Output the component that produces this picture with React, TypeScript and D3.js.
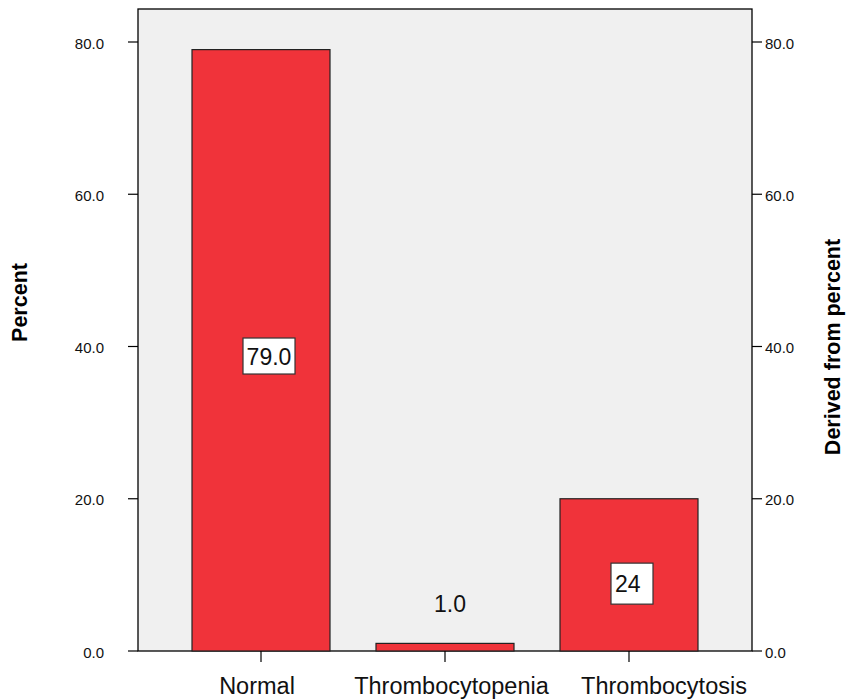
import React from "react";
import * as d3 from "d3";

const categories = ["Normal", "Thrombocytopenia", "Thrombocytosis"];
const percentValues = [79.0, 1.0, 20.0];
const barLabels = ["79.0", "1.0", "24"];
const tickValues = [0, 20, 40, 60, 80];
const leftTitle = "Percent";
const rightTitle = "Derived from percent";

const W = 847;
const H = 700;
const plot = { left: 138, right: 752, top: 9, bottom: 651 };
const FONT = "'Liberation Sans', Arial, Helvetica, sans-serif";
const BAR_FILL = "#f0333a";
const BG = "#f0f0f0";

// label styling per bar (layout only): boxed?, x shift, label-center value
const labelLayout = [
  { boxed: true, dx: 8, yVal: 38.75, boxW: 52, boxH: 36, align: "middle" },
  { boxed: false, dx: 5, yVal: 6.2, boxW: 0, boxH: 0, align: "middle" },
  { boxed: true, dx: 3, yVal: 8.85, boxW: 42, boxH: 41, align: "start" },
];
const catLabelDx = [-4, 6.5, 35];

export default function App() {
  const y = d3.scaleLinear().domain([0, 80]).range([plot.bottom, 42]);
  const x = d3
    .scaleBand<string>()
    .domain(categories)
    .range([plot.left, plot.right])
    .paddingInner(0.25)
    .paddingOuter(0.2935);
  const bw = x.bandwidth();

  return (
    <svg
      width={W}
      height={H}
      style={{ position: "absolute", left: 0, top: 0, background: "#fff" }}
      fontFamily={FONT}
    >
      <rect
        x={plot.left}
        y={plot.top}
        width={plot.right - plot.left}
        height={plot.bottom - plot.top}
        fill={BG}
        stroke="#000"
        strokeWidth={1.3}
      />
      {categories.map((c, i) => {
        const x0 = x(c)!;
        return (
          <rect
            key={c}
            x={x0}
            y={y(percentValues[i])}
            width={bw}
            height={plot.bottom - y(percentValues[i])}
            fill={BAR_FILL}
            stroke="#222"
            strokeWidth={1.2}
          />
        );
      })}
      {/* left axis ticks */}
      {tickValues.map((t) => (
        <g key={"l" + t}>
          <line x1={plot.left - 10} x2={plot.left} y1={y(t)} y2={y(t)} stroke="#000" strokeWidth={1.2} />
          <text x={104} y={y(t) + 6.5} textAnchor="end" fontSize={15} fill="#111">
            {d3.format(".1f")(t)}
          </text>
        </g>
      ))}
      {/* right axis ticks */}
      {tickValues.map((t) => (
        <g key={"r" + t}>
          <line x1={plot.right} x2={plot.right + 10} y1={y(t)} y2={y(t)} stroke="#000" strokeWidth={1.2} />
          <text x={765} y={y(t) + 6.5} textAnchor="start" fontSize={15} fill="#111">
            {d3.format(".1f")(t)}
          </text>
        </g>
      ))}
      {/* bottom ticks and category labels */}
      {categories.map((c, i) => {
        const cx = x(c)! + bw / 2;
        return (
          <g key={"b" + c}>
            <line x1={cx} x2={cx} y1={plot.bottom} y2={plot.bottom + 11} stroke="#000" strokeWidth={1.2} />
            <text x={cx + catLabelDx[i]} y={694} textAnchor="middle" fontSize={23.5} fill="#111">
              {c}
            </text>
          </g>
        );
      })}
      {/* bar labels */}
      {categories.map((c, i) => {
        const L = labelLayout[i];
        const cx = x(c)! + bw / 2 + L.dx;
        const cy = y(L.yVal);
        return (
          <g key={"lab" + c}>
            {L.boxed && (
              <rect
                x={cx - L.boxW / 2}
                y={cy - L.boxH / 2}
                width={L.boxW}
                height={L.boxH}
                fill="#fff"
                stroke="#333"
                strokeWidth={1.2}
              />
            )}
            <text
              x={L.align === "start" ? cx - L.boxW / 2 + 4 : cx}
              y={cy + 8.5}
              textAnchor={L.align}
              fontSize={23}
              fill="#111"
            >
              {barLabels[i]}
            </text>
          </g>
        );
      })}
      <text
        transform={`translate(27,302.5) rotate(-90)`}
        textAnchor="middle"
        fontSize={21.5}
        fontWeight="bold"
        fill="#000"
      >
        {leftTitle}
      </text>
      <text
        transform={`translate(840,347) rotate(-90)`}
        textAnchor="middle"
        fontSize={21.5}
        fontWeight="bold"
        fill="#000"
      >
        {rightTitle}
      </text>
    </svg>
  );
}
